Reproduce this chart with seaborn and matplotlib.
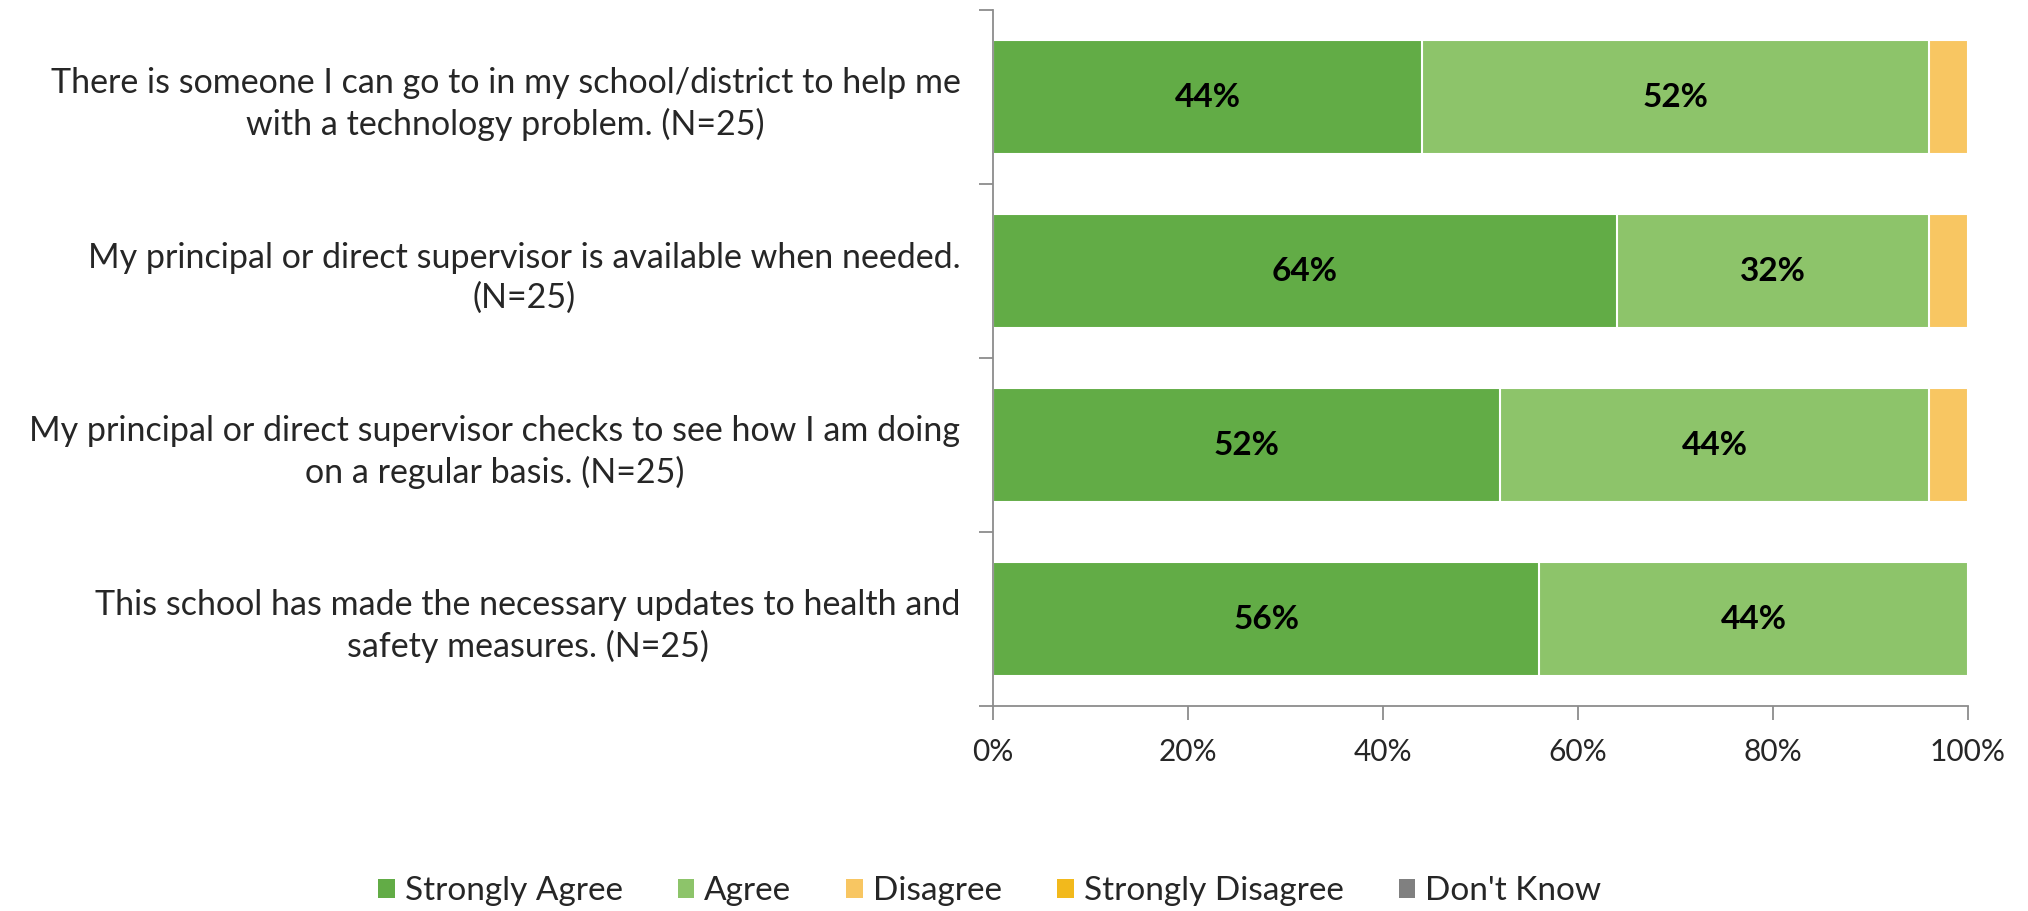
import numpy as np
import pandas as pd
import matplotlib.pyplot as plt
import seaborn as sns
from matplotlib.patches import Patch
from matplotlib.ticker import FixedLocator, PercentFormatter

questions = [
    "There is someone I can go to in my school/district to help me\nwith a technology problem. (N=25)",
    "My principal or direct supervisor is available when needed.\n(N=25)",
    "My principal or direct supervisor checks to see how I am doing\non a regular basis. (N=25)",
    "This school has made the necessary updates to health and\nsafety measures. (N=25)",
]
responses = ["Strongly Agree", "Agree", "Disagree", "Strongly Disagree", "Don't Know"]
strongly_agree = [44, 64, 52, 56]
agree = [52, 32, 44, 44]
disagree = [4, 4, 4, 0]
strongly_disagree = [0, 0, 0, 0]
dont_know = [0, 0, 0, 0]
colors = ["#62AC46", "#8DC46A", "#F8C662", "#F2B91C", "#808080"]

df = pd.DataFrame({"question": questions,
                   "Strongly Agree": strongly_agree,
                   "Agree": agree,
                   "Disagree": disagree,
                   "Strongly Disagree": strongly_disagree,
                   "Don't Know": dont_know})
cum = df[responses].cumsum(axis=1)

sns.set_style("white")
plt.rcParams["font.family"] = ["Lato", "DejaVu Sans"]

fig, ax = plt.subplots(figsize=(20.28, 9.11), dpi=100)
fig.subplots_adjust(left=0.4897, right=0.9704, top=0.989, bottom=0.225)

# stacked bars: draw cumulative totals from the last segment back to the first
for resp, col in zip(responses[::-1], colors[::-1]):
    sns.barplot(x=cum[resp], y=df["question"], color=col, orient="h",
                width=0.66, saturation=1, edgecolor="white", linewidth=1.5, ax=ax)

# value labels
for i, q in enumerate(questions):
    for resp in responses:
        v = df.loc[i, resp]
        if v >= 10:
            mid = cum.loc[i, resp] - v / 2
            ax.text(mid, i, f"{v}%", ha="center", va="center",
                    fontsize=24, fontweight="bold", color="black")

ax.set_xlim(0, 100)
ax.set_ylim(3.5, -0.5)
ax.xaxis.set_major_locator(FixedLocator([0, 20, 40, 60, 80, 100]))
ax.xaxis.set_major_formatter(PercentFormatter(decimals=0))
ax.set_xlabel("")
ax.set_ylabel("")

for s in ["top", "right"]:
    ax.spines[s].set_visible(False)
for s in ["left", "bottom"]:
    ax.spines[s].set_color("#8c8c8c")
    ax.spines[s].set_linewidth(1.3)

ax.tick_params(axis="x", bottom=True, length=10, width=1.3, color="#8c8c8c",
               labelsize=21.5, pad=13)
ax.tick_params(axis="y", left=False, labelsize=24.5, pad=20)
ax.yaxis.set_minor_locator(FixedLocator(np.arange(-0.5, 4, 1)))
ax.tick_params(axis="y", which="minor", left=True, length=10, width=1.3,
               color="#8c8c8c")
for lab in ax.get_yticklabels():
    lab.set_multialignment("center")
    lab.set_linespacing(1.3)

handles = [Patch(facecolor=c, edgecolor="none", label=r) for r, c in zip(responses, colors)]
fig.legend(handles=handles, loc="center", bbox_to_anchor=(0.488, 0.022), ncol=5,
           frameon=False, fontsize=24, handlelength=0.5, handleheight=0.5,
           handletextpad=0.3, columnspacing=1.65)

fig.savefig("out.png", dpi=100)
